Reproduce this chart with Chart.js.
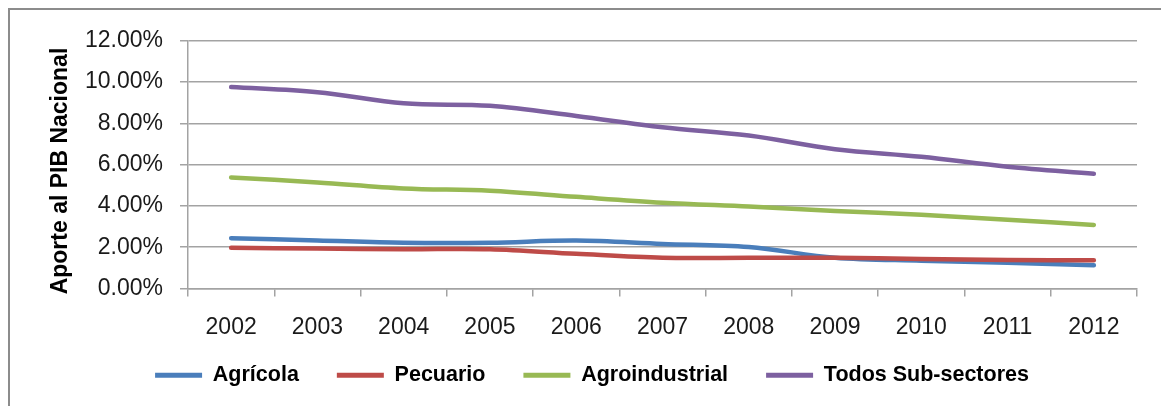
<!DOCTYPE html>
<html>
<head>
<meta charset="utf-8">
<script src="https://cdn.jsdelivr.net/npm/chart.js@4/dist/chart.umd.min.js"></script>
<style>
  html, body { margin: 0; padding: 0; background: #fff; overflow: hidden; }
  body { width: 1161px; height: 406px; position: relative; }
  #frame {
    position: absolute; left: 8px; top: 8px;
    width: 1190px; height: 400px;
    border-left: 2px solid #8c8c8c; border-top: 2px solid #8c8c8c;
    background: #fff;
  }
  #chart { display: block; }
</style>
</head>
<body>
<div id="frame"><canvas id="chart" width="1190" height="400"></canvas></div>
<script>
// Años del período
const years = ['2002', '2003', '2004', '2005', '2006', '2007', '2008', '2009', '2010', '2011', '2012'];

// Aporte de cada sub-sector al PIB nacional (%)
const agricola       = [2.44, 2.33, 2.22, 2.22, 2.32, 2.16, 2.01, 1.49, 1.35, 1.25, 1.13];
const pecuario       = [1.97, 1.94, 1.90, 1.90, 1.68, 1.49, 1.49, 1.49, 1.43, 1.38, 1.37];
const agroindustrial = [5.38, 5.14, 4.85, 4.74, 4.44, 4.16, 3.97, 3.76, 3.57, 3.33, 3.08];
const todos          = [9.76, 9.51, 8.97, 8.85, 8.36, 7.81, 7.41, 6.75, 6.38, 5.90, 5.56];

const seriesNames = ['Agrícola', 'Pecuario', 'Agroindustrial', 'Todos Sub-sectores'];
const seriesData = [agricola, pecuario, agroindustrial, todos];
const seriesColors = ['#4A7EBB', '#BE4B48', '#98B954', '#7D60A0'];

// Escala del eje Y (%)
const yMin = 0, yMax = 12, yStep = 2;

const FONT = "'Liberation Sans', Arial, sans-serif";
const GRID = '#a3a3a3';

const datasets = seriesNames.map((name, i) => ({
  label: name,
  data: seriesData[i],
  borderColor: seriesColors[i],
  backgroundColor: seriesColors[i],
  borderWidth: 4.5,
  pointRadius: 0,
  pointHoverRadius: 0,
  tension: 0.35,
  borderCapStyle: 'round',
  borderJoinStyle: 'round',
  fill: false,
  order: seriesNames.length - i   // later series are painted on top
}));

// The x scale is kept short so the legend sits close to it; widen its
// label clip area afterwards so the year labels are not cut off.
const labelRoom = {
  id: 'labelRoom',
  afterLayout(chart) {
    const x = chart.scales.x;
    x.bottom = x.top + 60;
  }
};

new Chart(document.getElementById('chart'), {
  type: 'line',
  data: { labels: years, datasets },
  plugins: [labelRoom],
  options: {
    responsive: false,
    animation: false,
    layout: { padding: { left: 37, top: 27, right: 1190 - 1127, bottom: 14 } },
    plugins: {
      tooltip: { enabled: false },
      legend: {
        position: 'bottom',
        align: 'center',
        labels: {
          boxWidth: 47,
          boxHeight: 5,
          padding: 38,
          color: '#000',
          font: { family: FONT, size: 21.5, weight: 'bold' },
          sort: (a, b) => a.datasetIndex - b.datasetIndex,
          generateLabels(chart) {
            const items = Chart.defaults.plugins.legend.labels.generateLabels(chart);
            items.forEach(it => {
              it.fillStyle = seriesColors[it.datasetIndex];
              it.strokeStyle = seriesColors[it.datasetIndex];
              it.lineWidth = 0;
            });
            return items;
          }
        }
      }
    },
    scales: {
      x: {
        offset: true,
        afterFit(scale) { scale.height = 38; },
        grid: {
          offset: true,
          drawOnChartArea: false,
          drawTicks: true,
          tickLength: 8,
          color: GRID,
          lineWidth: 1.5
        },
        border: { display: true, color: GRID, width: 1.5 },
        ticks: {
          color: '#1a1a1a',
          padding: 17,
          maxRotation: 0,
          font: { family: FONT, size: 23 }
        }
      },
      y: {
        min: yMin,
        max: yMax,
        afterFit(scale) { scale.width = 141; },
        grid: {
          color: GRID,
          lineWidth: 1.5,
          drawTicks: true,
          tickLength: 8
        },
        border: { display: true, color: GRID, width: 1.5 },
        ticks: {
          stepSize: yStep,
          color: '#1a1a1a',
          padding: 17,
          font: { family: FONT, size: 23 },
          callback: v => v.toFixed(2) + '%'
        },
        title: {
          display: true,
          text: 'Aporte al PIB Nacional  ',
          color: '#000',
          padding: { top: 0, bottom: 0 },
          font: { family: FONT, size: 23, weight: 'bold' }
        }
      }
    }
  }
});
</script>
</body>
</html>
